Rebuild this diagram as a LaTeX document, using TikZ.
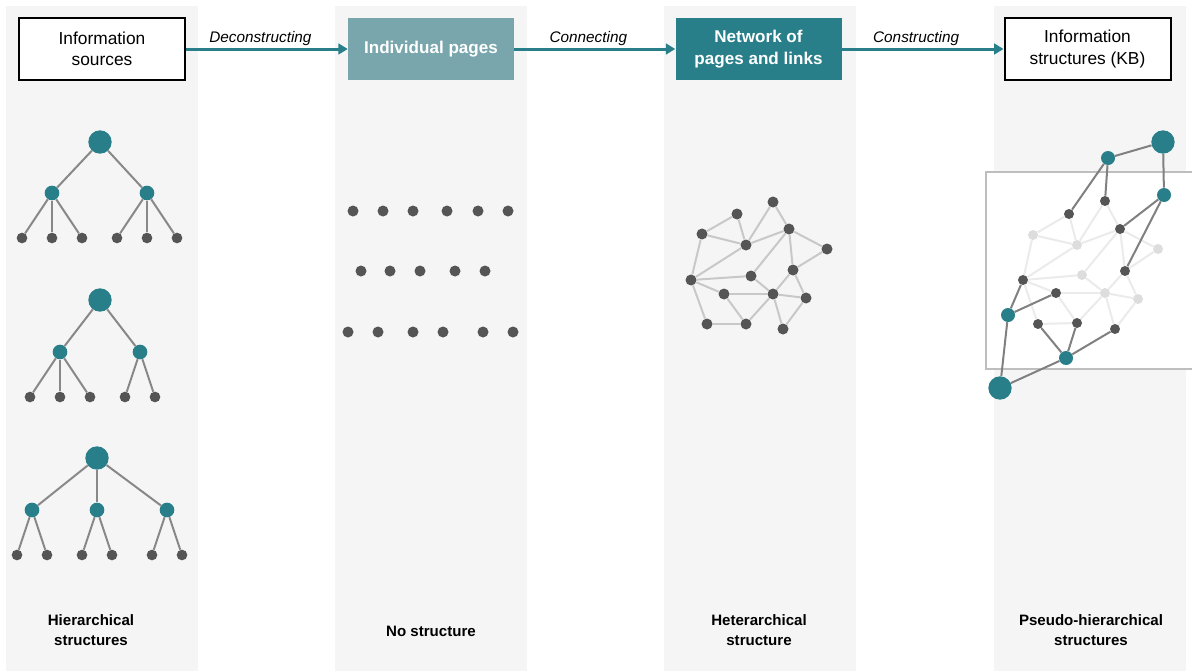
\documentclass[tikz,border=0pt]{standalone}
\usepackage{fontspec}
\setmainfont{Liberation Sans}
\usetikzlibrary{arrows.meta}

\definecolor{teal1}{RGB}{40,127,138}
\definecolor{tealsoft}{RGB}{120,166,172}
\definecolor{colbg}{RGB}{245,245,245}
\definecolor{darkdot}{RGB}{85,85,85}
\definecolor{treeline}{RGB}{136,136,136}
\definecolor{netline}{RGB}{200,200,200}
\definecolor{fadeline}{RGB}{235,235,235}
\definecolor{fadedot}{RGB}{221,221,221}
\definecolor{linkline}{RGB}{128,128,128}
\definecolor{frameline}{RGB}{190,190,190}

\begin{document}
\begin{tikzpicture}[x=0.75pt,y=-0.75pt,
  hdr/.style={minimum width=124.5pt, minimum height=46.5pt, inner sep=0pt,
              align=center, font=\fontsize{13}{16}\selectfont},
  plainhdr/.style={hdr, draw=black, line width=1.5pt, fill=white},
  softhdr/.style={hdr, fill=tealsoft, text=white, font=\fontsize{12.8}{16}\selectfont\bfseries},
  stronghdr/.style={hdr, fill=teal1, text=white, font=\fontsize{12.8}{16}\selectfont\bfseries},
  flow/.style={draw=teal1, line width=2.25pt, -{Triangle[length=7pt,width=8pt]}},
  flowlabel/.style={above=-2pt, pos=0.46, font=\fontsize{11.5}{14}\selectfont\itshape},
  caption/.style={align=center, font=\fontsize{11.3}{15}\selectfont\bfseries},
  rootn/.style={circle, fill=teal1, inner sep=0pt, minimum size=17.5pt},
  midn/.style={circle, fill=teal1, inner sep=0pt, minimum size=11pt},
  leafn/.style={circle, fill=darkdot, inner sep=0pt, minimum size=8pt},
  tedge/.style={draw=treeline, line width=1.5pt},
  netn/.style={circle, fill=darkdot, inner sep=0pt, minimum size=8.25pt},
  nedge/.style={draw=netline, line width=1.5pt},
  kbbig/.style={circle, fill=teal1, inner sep=0pt, minimum size=17.5pt},
  kbmid/.style={circle, fill=teal1, inner sep=0pt, minimum size=10.5pt},
  kbdark/.style={circle, fill=darkdot, inner sep=0pt, minimum size=7.5pt},
  kbfade/.style={circle, fill=fadedot, inner sep=0pt, minimum size=7.5pt},
  fedge/.style={draw=fadeline, line width=1.5pt},
  ledge/.style={draw=linkline, line width=1.5pt}
]
\useasboundingbox (0,0) rectangle (1192,671);

% column backgrounds
\fill[colbg] (6,6) rectangle (198,671);
\fill[colbg] (335,6) rectangle (527,671);
\fill[colbg] (664,6) rectangle (856,671);
\fill[colbg] (994,6) rectangle (1186,671);

% header boxes
\node[plainhdr] (src) at (102,49) {Information\\sources};
\node[softhdr] (pages) at (431,49) {Individual pages};
\node[stronghdr] (net) at (758.5,49) {Network of\\pages and links};
\node[plainhdr] (kb) at (1087.5,49) {Information\\structures (KB)};

\draw[flow] (src) -- node[flowlabel] (l1) {Deconstructing} (pages);
\draw[flow] (pages) -- node[flowlabel] (l2) {Connecting} (net);
\draw[flow] (net) -- node[flowlabel] (l3) {Constructing} (kb);

% captions
\node[caption] (c1) at (91,630) {Hierarchical\\structures};
\node[caption] (c2) at (431,631) {No structure};
\node[caption] (c3) at (759,630) {Heterarchical\\structure};
\node[caption] (c4) at (1091,630) {Pseudo-hierarchical\\structures};

% ---- hierarchical trees ----
\node[rootn] (a0) at (100,142) {};
\node[midn] (a1) at (52,193) {};
\node[midn] (a2) at (147,193) {};
\foreach \n/\x in {a11/22,a12/52,a13/82,a21/117,a22/147,a23/177}
  \node[leafn] (\n) at (\x,238) {};
\foreach \p/\c in {a0/a1,a0/a2,a1/a11,a1/a12,a1/a13,a2/a21,a2/a22,a2/a23}
  \draw[tedge] (\p) -- (\c);

\node[rootn] (b0) at (100,300) {};
\node[midn] (b1) at (60,352) {};
\node[midn] (b2) at (140,352) {};
\foreach \n/\x in {b11/30,b12/60,b13/90,b21/125,b22/155}
  \node[leafn] (\n) at (\x,397) {};
\foreach \p/\c in {b0/b1,b0/b2,b1/b11,b1/b12,b1/b13,b2/b21,b2/b22}
  \draw[tedge] (\p) -- (\c);

\node[rootn] (c0) at (97,458) {};
\node[midn] (c1n) at (32,510) {};
\node[midn] (c2n) at (97,510) {};
\node[midn] (c3n) at (167,510) {};
\foreach \n/\x in {c11/17,c12/47,c21/82,c22/112,c31/152,c32/182}
  \node[leafn] (\n) at (\x,555) {};
\foreach \p/\c in {c0/c1n,c0/c2n,c0/c3n,c1n/c11,c1n/c12,c2n/c21,c2n/c22,c3n/c31,c3n/c32}
  \draw[tedge] (\p) -- (\c);

% ---- loose pages ----
\foreach \x [count=\i] in {353,383,413,447,478,508}
  \node[netn] (p1\i) at (\x,211) {};
\foreach \x [count=\i] in {361,390,420,455,485}
  \node[netn] (p2\i) at (\x,271) {};
\foreach \x [count=\i] in {348,378,413,443,483,513}
  \node[netn] (p3\i) at (\x,332) {};

% ---- heterarchical network ----
\foreach \n/\x/\y in {A/773/202,B/737/214,C/702/234,D/746/245,E/789/229,
    F/827/249,G/793/270,H/751/276,I/691/280,J/724/294,K/773/294,
    L/806/298,M/707/324,N/746/324,O/783/329}
  \node[netn] (n\n) at (\x,\y) {};
\foreach \a/\b in {B/C,B/D,C/D,A/D,A/E,D/E,E/F,E/H,E/G,F/G,C/I,D/I,I/H,I/J,
    I/M,J/K,J/N,H/K,G/K,G/L,K/L,K/N,K/O,L/O,M/N}
  \draw[nedge] (n\a) -- (n\b);

% ---- knowledge base structure ----
\fill[white] (986,172) rectangle (1192,369);
\draw[frameline, line width=1pt] (1193,172) -- (986,172) -- (986,369) -- (1193,369);

\foreach \n/\x/\y/\s in {A/1105/201/kbdark,B/1069/214/kbdark,C/1033/235/kbfade,
    D/1077/245/kbfade,E/1120/229/kbdark,F/1158/249/kbfade,G/1125/271/kbdark,
    H/1082/275/kbfade,I/1023/280/kbdark,J/1056/293/kbdark,K/1105/293/kbfade,
    L/1138/299/kbfade,M/1038/324/kbdark,N/1077/323/kbdark,O/1115/329/kbdark}
  \node[\s] (m\n) at (\x,\y) {};
\node[kbbig] (t1) at (1163,142) {};
\node[kbmid] (t2) at (1108,158) {};
\node[kbmid] (t3) at (1164,195) {};
\node[kbmid] (t4) at (1008,315) {};
\node[kbmid] (t5) at (1066,358) {};
\node[kbbig] (t6) at (1000,388) {};

\foreach \a/\b in {B/C,B/D,C/D,A/D,A/E,D/E,E/F,E/H,E/G,F/G,C/I,D/I,I/H,I/J,
    I/M,J/K,J/N,H/K,G/K,G/L,K/L,K/N,K/O,L/O,M/N}
  \draw[fedge] (m\a) -- (m\b);
\foreach \a/\b in {t1/t2,t1/t3,t2/mB,t2/mA,t3/mE,t3/mG,t6/t4,t4/mI,t4/mJ,
    t6/t5,t5/mM,t5/mN,t5/mO}
  \draw[ledge] (\a) -- (\b);

\end{tikzpicture}
\end{document}
